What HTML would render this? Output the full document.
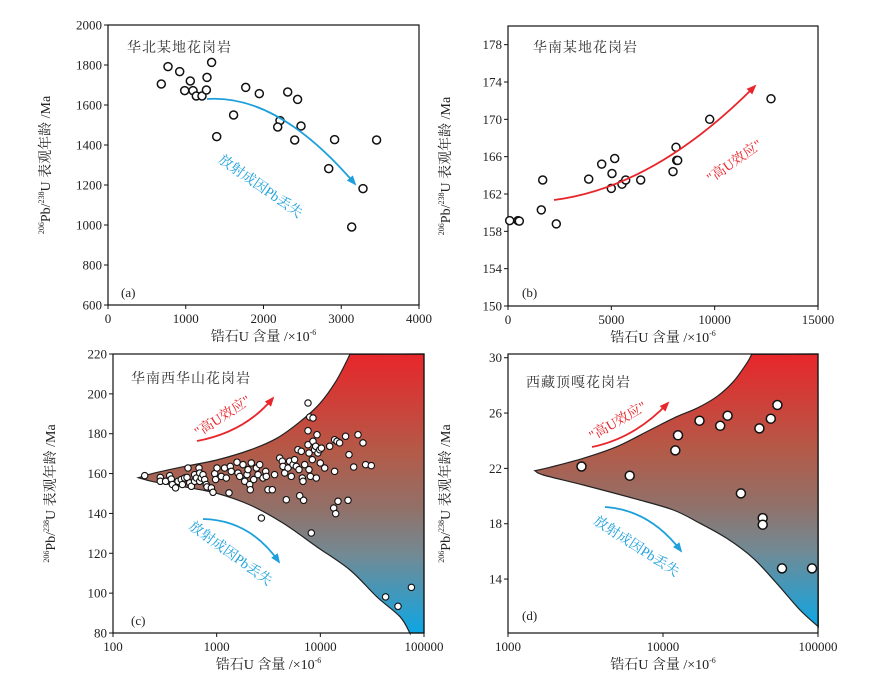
<!DOCTYPE html>
<html><head><meta charset="utf-8"><style>
body{margin:0;background:#fff}
svg{display:block;font-family:"Liberation Serif","Noto Serif CJK SC",serif}
.tk{font-size:13px;fill:#222}
.cn{font-family:"Liberation Serif","Noto Serif CJK SC",serif}
</style></head><body>
<svg id="fig" width="889" height="688" viewBox="0 0 889 688" xmlns="http://www.w3.org/2000/svg">
<defs>
<linearGradient id="grad" x1="0" y1="0" x2="0" y2="1">
<stop offset="0" stop-color="#e8262a"/><stop offset="0.35" stop-color="#b45a48"/><stop offset="0.55" stop-color="#927068"/><stop offset="0.72" stop-color="#728a94"/><stop offset="1" stop-color="#0ea6e4"/>
</linearGradient>
<marker id="ahR" markerWidth="10" markerHeight="8" refX="8" refY="4" orient="auto" markerUnits="userSpaceOnUse"><path d="M0,0 L10,4 L0,8 Z" fill="#e8262b"/></marker>
<marker id="ahB" markerWidth="10" markerHeight="8" refX="8" refY="4" orient="auto" markerUnits="userSpaceOnUse"><path d="M0,0 L10,4 L0,8 Z" fill="#1ea0dc"/></marker>
</defs>
<g id="root"></g>
</svg>
<script>
// Panel (a)
const aU = [686,772,922,1059,986,1093,1136,1209,1265,1273,1333,1398,1616,1771,1946,2212,2182,2311,2439,2482,2401,2915,2838,3455,3280,3134];
const aAge = [1705,1792,1767,1720,1672,1672,1645,1645,1675,1738,1813,1442,1550,1688,1657,1522,1490,1665,1628,1495,1425,1427,1282,1425,1182,990];
const aXTicks = [0,1000,2000,3000,4000];
const aYTicks = [600,800,1000,1200,1400,1600,1800,2000];
// Panel (b)
const bU = [81,484,548,1613,1677,2339,3903,4532,5032,5000,5161,5516,5694,6419,7984,8129,8161,8210,9758,12726];
const bAge = [159.15,159.15,159.1,160.3,163.5,158.8,163.6,165.2,164.2,162.6,165.8,163.05,163.5,163.5,164.4,167.0,165.6,165.6,170.0,172.2];
const bXTicks = [0,5000,10000,15000];
const bYTicks = [150,154,158,162,166,170,174,178];
// Panel (c)
const cU = [202,286,286,322,352,365,374,402,424,456,467,491,517,529,549,570,613,613,637,676,686,686,711,738,766,795,807,889,922,957,977,1007,1109,1194,1239,1315,1355,1384,1570,1606,1667,1795,1862,1963,2005,2081,2113,2159,2274,2415,2505,2600,2698,2799,2972,3014,3127,3443,3622,4055,4299,4365,4529,4699,4875,5058,5248,5445,5649,5861,6081,6223,6322,6559,6699,6808,6902,7063,7603,7603,7603,7780,7780,7889,8017,8185,8375,8492,8492,8810,9016,9141,9290,9484,9863,10000,10233,11015,12303,13459,13740,13740,14060,14488,14791,15346,17539,18493,18923,20989,23067,25823,27353,31046,42658,56105,75509];
const cAge = [159.0,158.1,156.1,156.1,159.0,157.3,154.5,152.8,156.1,157.0,154.5,157.8,158.1,162.8,155.3,153.6,159.5,156.1,157.8,162.8,160.3,156.1,157.8,159.5,157.0,154.5,153.3,152.8,150.6,160.0,157.0,162.8,158.6,162.8,157.8,150.3,163.6,161.1,165.7,160.3,158.6,164.5,156.1,159.5,162.0,154.5,151.9,165.3,157.0,162.8,159.5,164.5,137.7,157.8,161.1,158.6,151.9,151.9,159.5,167.8,166.2,163.6,160.3,146.9,162.8,166.2,158.6,164.5,167.0,163.6,172.0,162.0,148.9,171.2,157.8,156.1,146.6,164.5,195.4,181.5,174.5,170.3,162.0,188.4,158.6,130.2,167.0,187.9,176.2,172.0,173.7,157.8,179.5,170.3,172.0,165.3,172.8,162.8,173.7,142.7,177.0,161.1,139.9,176.2,146.1,175.4,178.7,146.6,169.5,163.3,179.5,175.4,164.5,164.0,98.1,93.4,102.9];
const cXTicks = [100,1000,10000,100000];
const cYTicks = [80,100,120,140,160,180,200,220];
// Panel (d)
const dU = [2980,6100,12000,12500,17200,23400,26100,31800,41900,44000,44000,49600,54700,58600,91500];
const dAge = [22.14,21.47,23.30,24.39,25.45,25.08,25.81,20.19,24.89,18.41,17.93,25.59,26.58,14.77,14.77];
const dXTicks = [1000,10000,100000];
const dYTicks = [14,18,22,26,30];

const NS = "http://www.w3.org/2000/svg";
const root = document.getElementById('root');
function mk(tag, attrs, parent){const e=document.createElementNS(NS,tag);for(const k in attrs)e.setAttribute(k,attrs[k]);(parent||root).appendChild(e);return e;}

function linScale(d0,d1,r0,r1){return v=>r0+(v-d0)/(d1-d0)*(r1-r0);}
function logScale(d0,d1,r0,r1){return v=>r0+(Math.log10(v)-Math.log10(d0))/(Math.log10(d1)-Math.log10(d0))*(r1-r0);}

function smooth(pts){let d="M"+pts[0][0]+","+pts[0][1];for(let i=0;i<pts.length-1;i++){const p0=pts[Math.max(0,i-1)],p1=pts[i],p2=pts[i+1],p3=pts[Math.min(pts.length-1,i+2)];const c1=[p1[0]+(p2[0]-p0[0])/6,p1[1]+(p2[1]-p0[1])/6],c2=[p2[0]-(p3[0]-p1[0])/6,p2[1]-(p3[1]-p1[1])/6];d+=` C${c1[0].toFixed(1)},${c1[1].toFixed(1)} ${c2[0].toFixed(1)},${c2[1].toFixed(1)} ${p2[0]},${p2[1]}`;}return d;}

function panel(p){
  const g=mk('g',{});
  
  
  if(p.env){
    const e=mk('path',{d:p.env,fill:'url(#grad)',stroke:'#222','stroke-width':1.2},g);
    
    
  }
  const fr=mk('rect',{x:p.L,y:p.T,width:p.R-p.L,height:p.B-p.T,fill:'none',stroke:'#111','stroke-width':1.2},g);
  
  
  p.xt.forEach(v=>{const x=p.sx(v);
    mk('line',{x1:x,y1:p.B,x2:x,y2:p.B+4,stroke:'#111','stroke-width':1},g);
    const t=mk('text',{x:x,y:p.B+18,'text-anchor':'middle',class:'tk'},g);t.textContent=v;
    
    });
  p.yt.forEach(v=>{const y=p.sy(v);
    mk('line',{x1:p.L-4,y1:y,x2:p.L,y2:y,stroke:'#111','stroke-width':1},g);
    const t=mk('text',{x:p.L-6,y:y+4.5,'text-anchor':'end',class:'tk'},g);t.textContent=v;
    
    });
  p.xs.forEach((v,i)=>{
    const c=mk('circle',{cx:p.sx(v).toFixed(1),cy:p.sy(p.ys[i]).toFixed(1),r:p.r,fill:'#fff',stroke:'#111','stroke-width':p.sw},g);
    
    
  });
  const tt=mk('text',{x:p.tx,y:p.ty,'font-size':14,fill:'#333',class:'cn','letter-spacing':'1'},g);tt.textContent=p.title;
  
  
  const lb=mk('text',{x:p.lx,y:p.ly,'font-size':13,fill:'#222'},g);lb.textContent='('+p.id+')';
  
  
  // axis titles
  const xtl=mk('text',{x:(p.L+p.R)/2,y:p.B+36,'text-anchor':'middle','font-size':14,fill:'#222',class:'cn'},g);
  xtl.innerHTML='锆石U 含量 /×10<tspan font-size="8" dy="-6">-6</tspan>';
  
  
  const cy=(p.T+p.B)/2, cx=p.L-58;
  const ytl=mk('text',{x:cx,y:cy,'text-anchor':'middle','font-size':14,fill:'#222',class:'cn',transform:`rotate(-90 ${cx} ${cy})`},g);
  ytl.innerHTML='<tspan font-size="8" dy="-6">206</tspan><tspan dy="6">Pb/</tspan><tspan font-size="8" dy="-6">238</tspan><tspan dy="6">U 表观年龄 /Ma</tspan>';
  
  
  (p.arrows||[]).forEach(a=>{
    const col=a.red?'#e8262b':'#1ea0dc';
    const ar=mk('path',{d:a.d,fill:'none',stroke:col,'stroke-width':1.8,'marker-end':a.red?'url(#ahR)':'url(#ahB)'},g);
    
    
    const t=mk('text',{x:a.lx,y:a.ly,'text-anchor':'middle','font-size':14,fill:col,class:'cn',transform:`rotate(${a.rot} ${a.lx} ${a.ly})`},g);
    t.textContent=a.red?'"高U效应"':'放射成因Pb丢失';
    
    
  });
}

function zc(pts,ox,oy){return pts.map(q=>[+(ox+q[0]/3).toFixed(1),+(oy+q[1]/3).toFixed(1)]);}

// (a)
panel({id:'a',L:108,R:419,T:25,B:305,sx:linScale(0,4000,108,419),sy:linScale(600,2000,305,25),xt:aXTicks,yt:aYTicks,xs:aU,ys:aAge,r:4,sw:1.5,
 title:'华北某地花岗岩',tx:127,ty:52,lx:121,ly:297,
 arrows:[{d:'M207,99 Q278,94 355,184',red:false,lx:258,ly:190,rot:35}]});
// (b)
panel({id:'b',L:508,R:818,T:26,B:306,sx:linScale(0,15000,508,818),sy:linScale(150,180,306,26),xt:bXTicks,yt:bYTicks,xs:bU,ys:bAge,r:4,sw:1.5,
 title:'华南某地花岗岩',tx:533,ty:52,lx:522,ly:297,
 arrows:[{d:'M554,200 Q655,187 755,86',red:true,lx:737,ly:165,rot:-35}]});
// (c)
const cUp=zc([[115,383],[160,370],[250,350],[350,330],[450,300],[530,265],[600,215],[660,160],[710,90],[750,13]],100,350);
const cLo=zc([[930,850],[900,800],[830,740],[750,660],[650,590],[550,520],[450,465],[350,430],[250,410],[160,395],[115,383]],100,350);
const cEnv=smooth(cUp)+' L424,354 L424,633 L'+cLo[0][0]+',633 '+smooth(cLo).replace(/^M[^C]*/,' L'+cLo[0][0]+','+cLo[0][1]+' ')+' Z';
panel({id:'c',L:113,R:424,T:354,B:633,sx:logScale(100,100000,113,424),sy:linScale(80,220,633,354),xt:cXTicks,yt:cYTicks,xs:cU,ys:cAge,r:3.2,sw:1.1,env:cEnv,
 title:'华南西华山花岗岩',tx:131,ty:383,lx:131,ly:625,
 arrows:[{d:'M197,441 Q245,432 273,398',red:true,lx:225,ly:420,rot:-33},{d:'M203,519 Q250,520 279,562',red:false,lx:228,ly:557,rot:36}]});
// (d)
const dUp=zc([[105,362],[150,352],[250,325],[350,290],[450,240],[530,200],[590,175],[650,140],[700,95],[740,40],[755,13]],500,350);
const dLo=zc([[955,830],[900,780],[830,700],[760,625],[680,565],[600,520],[520,480],[400,445],[250,405],[130,375],[105,362]],500,350);
const dEnv=smooth(dUp)+' L818,354 '+smooth(dLo).replace(/^M/,' L')+' Z';
panel({id:'d',L:508,R:818,T:354,B:633,sx:logScale(1000,100000,508,818),sy:linScale(10.1,30.27,633,354),xt:dXTicks,yt:dYTicks,xs:dU,ys:dAge,r:4.5,sw:1.5,env:dEnv,
 title:'西藏顶嘎花岗岩',tx:526,ty:387,lx:522,ly:620,
 arrows:[{d:'M592,447 Q635,438 668,403',red:true,lx:620,ly:425,rot:-30},{d:'M605,507 Q650,510 681,551',red:false,lx:634,ly:550,rot:33}]});
</script>
</body></html>
